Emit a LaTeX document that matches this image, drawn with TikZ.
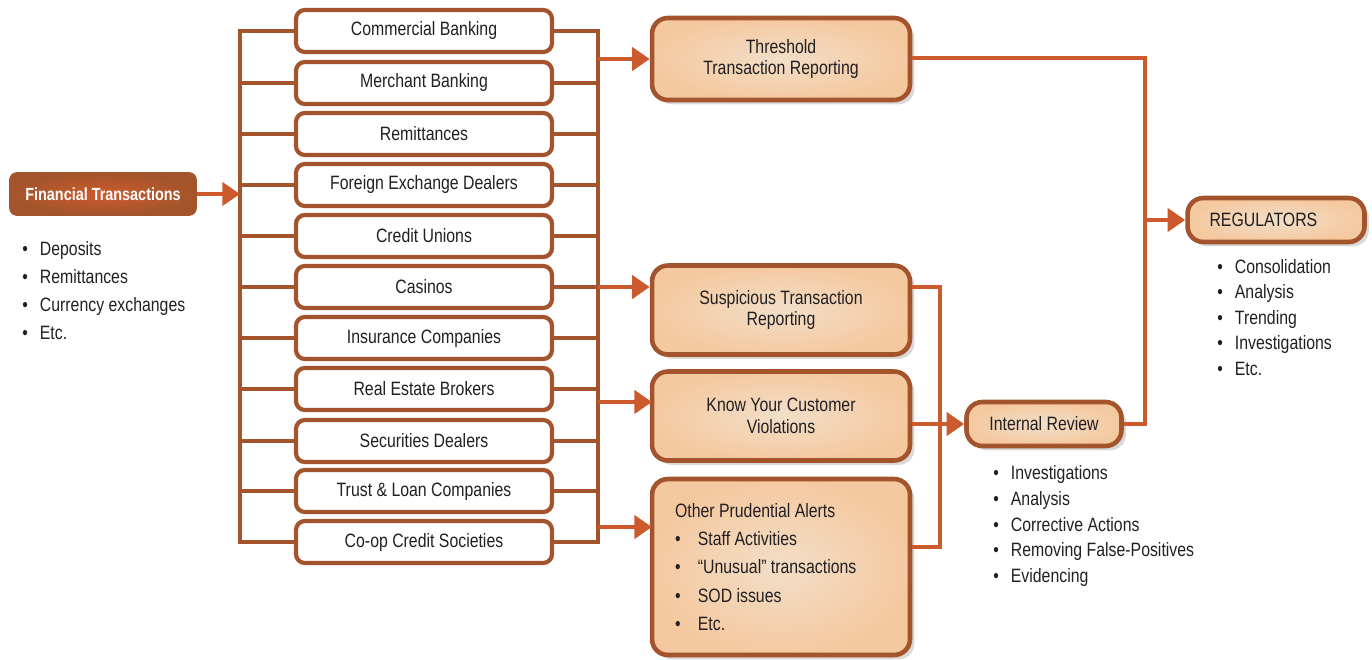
\documentclass[tikz,border=0pt]{standalone}
\usepackage{fontspec}
\setmainfont[FakeStretch=0.82]{Liberation Sans}
\usetikzlibrary{arrows.meta,shadows,positioning,calc}
\definecolor{rust}{HTML}{A3542C}
\definecolor{flame}{HTML}{CD5A2C}
\definecolor{peach}{HTML}{F5C9A0}
\definecolor{cream}{HTML}{F2DEC8}
\definecolor{ink}{HTML}{231F20}

\tikzset{
	link/.style={rust, line width=2.8pt},
	flow/.style={flame, line width=2.8pt},
	flowarr/.style={flame, line width=2.8pt, -{Triangle[length=10pt,width=13pt]}},
	entity/.style={draw=rust, line width=2.4pt, fill=white, rounded corners=5pt,
		minimum width=5.12cm, minimum height=0.84cm, inner sep=0pt,
		font=\fontsize{11}{13}\selectfont, text=ink},
	report/.style={draw=rust, line width=2.6pt, rounded corners=9pt,
		inner color=cream, outer color=peach,
		drop shadow={opacity=0.3, shadow xshift=2.5pt, shadow yshift=-2.5pt},
		minimum width=5.16cm, inner sep=0pt, align=center,
		font=\fontsize{11}{12.5}\selectfont, text=ink},
	bullets/.style={align=flush left, anchor=north west, inner sep=0pt, text=ink}
}
\newcommand{\itm}[1]{\makebox[10pt][l]{\textbullet}#1}
\newcommand{\subitm}[1]{\makebox[13pt][l]{\textbullet}#1}

\begin{document}
\begin{tikzpicture}[x=0.02cm, y=-0.02cm]
	\useasboundingbox (0,0) rectangle (1372,659);

	% source
	\node[draw=rust, line width=1pt, rounded corners=4pt, inner color=flame, outer color=rust,
		minimum width=3.72cm, minimum height=0.84cm, text=white,
		font=\fontsize{10}{12}\selectfont\bfseries] (ft) at (103,194) {Financial Transactions};
	\node[bullets, font=\fontsize{11}{16}\selectfont] (ftlist) at (22,241)
		{\itm{Deposits}\\\itm{Remittances}\\\itm{Currency exchanges}\\\itm{Etc.}};

	% reporting entities
	\node[entity] (cb) at (424,31) {Commercial Banking};
	\node[entity] (mb) at (424,83) {Merchant Banking};
	\node[entity] (rem) at (424,134) {Remittances};
	\node[entity] (fx) at (424,185) {Foreign Exchange Dealers};
	\node[entity] (cu) at (424,236) {Credit Unions};
	\node[entity] (cas) at (424,287) {Casinos};
	\node[entity] (ins) at (424,338) {Insurance Companies};
	\node[entity] (reb) at (424,389) {Real Estate Brokers};
	\node[entity] (sec) at (424,441) {Securities Dealers};
	\node[entity] (tl) at (424,491) {Trust \& Loan Companies};
	\node[entity] (cs) at (424,542) {Co-op Credit Societies};

	\coordinate (lbus) at (240,31);
	\coordinate (rbus) at (598,31);
	\draw[link] (cb.west) -- (cb.west -| lbus) -- (cs.west -| lbus) -- (cs.west);
	\draw[link] (cb.east) -- (cb.east -| rbus) -- (cs.east -| rbus) -- (cs.east);
	\foreach \n in {mb,rem,fx,cu,cas,ins,reb,sec,tl}
		\draw[link] (\n.west -| lbus) -- (\n.west) (\n.east) -- (\n.east -| rbus);
	\draw[flowarr] (ft.east) -- (ft.east -| lbus);

	% reports
	\node[report, minimum height=1.64cm] (thr) at (781,59) {Threshold\\Transaction Reporting};
	\node[report, minimum height=1.78cm] (sus) at (781,310) {Suspicious Transaction\\Reporting};
	\node[report, minimum height=1.78cm] (kyc) at (781,416) {Know Your Customer\\Violations};
	\node[report, minimum height=3.52cm, text width=4.24cm, inner xsep=0.46cm, align=flush left,
		font=\fontsize{11}{16}\selectfont] (oth) at (781,567)
		{Other Prudential Alerts\\\subitm{Staff Activities}\\\subitm{“Unusual” transactions}\\\subitm{SOD issues}\\\subitm{Etc.}};

	\coordinate (kycin) at (652,402);
	\coordinate (othin) at (652,527);
	\draw[flowarr] (thr.west -| rbus) -- (thr.west);
	\draw[flowarr] (cas.east -| rbus) -- (cas.east -| sus.west);
	\draw[flowarr] (kycin -| rbus) -- (kycin);
	\draw[flowarr] (othin -| rbus) -- (othin);

	% review and regulators
	\node[report, minimum width=3.1cm, minimum height=0.88cm] (ir) at (1044,424) {Internal Review};
	\node[bullets, font=\fontsize{11}{14.7}\selectfont] (irlist) at (993,465)
		{\itm{Investigations}\\\itm{Analysis}\\\itm{Corrective Actions}\\\itm{Removing False-Positives}\\\itm{Evidencing}};
	\node[report, minimum width=3.54cm, minimum height=0.88cm, text width=2.66cm, inner xsep=0.44cm,
		align=flush left] (reg) at (1276,220) {REGULATORS};
	\node[bullets, font=\fontsize{11}{14.5}\selectfont] (reglist) at (1217,259)
		{\itm{Consolidation}\\\itm{Analysis}\\\itm{Trending}\\\itm{Investigations}\\\itm{Etc.}};

	\coordinate (ib) at (940,287);
	\coordinate (ibb) at (940,547);
	\draw[flow] (sus.east |- ib) -- (ib) -- (ibb) -- (oth.east |- ibb);
	\draw[flowarr] (kyc.east |- ir.west) -- (ir.west);
	\coordinate (rg) at (1145,58);
	\draw[flow] (thr.east |- rg) -- (rg) -- (rg |- ir.east) -- (ir.east);
	\draw[flowarr] (rg |- reg.west) -- (reg.west);
\end{tikzpicture}
\end{document}
